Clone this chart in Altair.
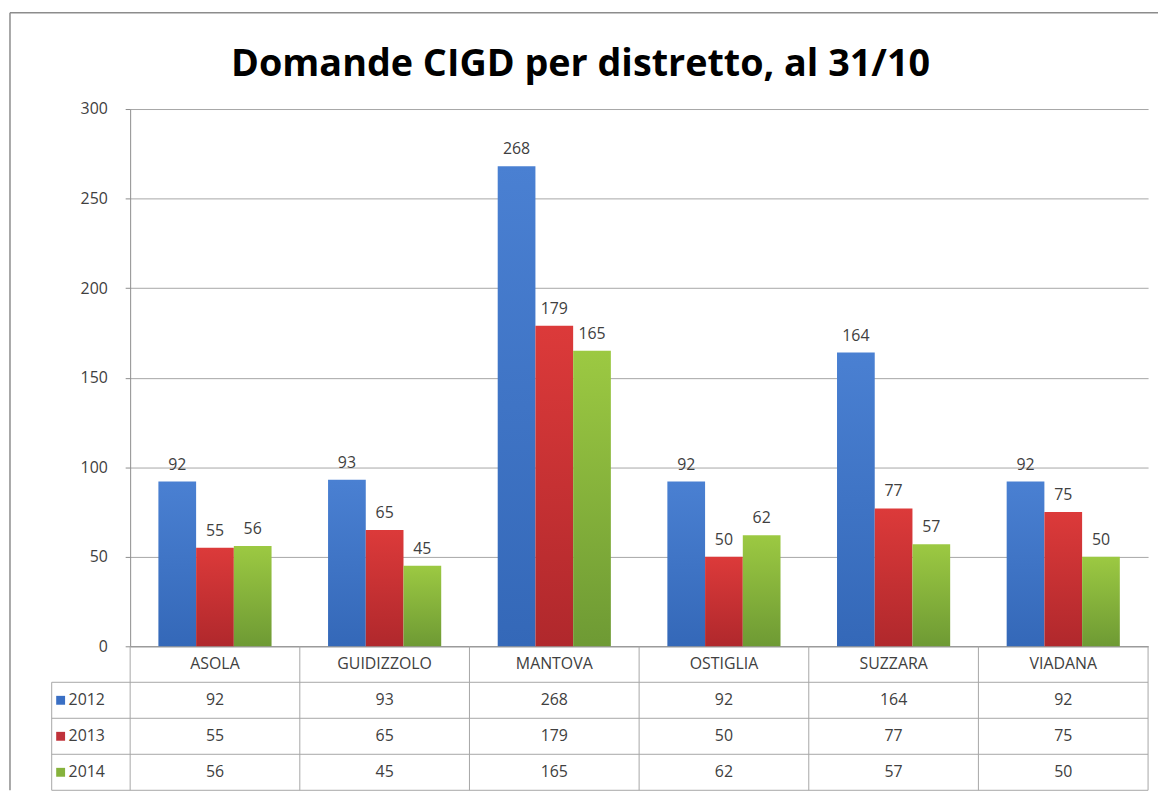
import altair as alt
import pandas as pd

# ---- data ----
categories = ["ASOLA", "GUIDIZZOLO", "MANTOVA", "OSTIGLIA", "SUZZARA", "VIADANA"]
years = ["2012", "2013", "2014"]
v2012 = [92, 93, 268, 92, 164, 92]
v2013 = [55, 65, 179, 50, 77, 75]
v2014 = [56, 45, 165, 62, 57, 50]
y_ticks = [0, 50, 100, 150, 200, 250, 300]
title_text = "Domande CIGD per distretto, al 31/10"

series = {"2012": v2012, "2013": v2013, "2014": v2014}
rows = []
for yr in years:
    for c, v in zip(categories, series[yr]):
        rows.append({"distretto": c, "anno": yr, "valore": v})
df = pd.DataFrame(rows)

# ---- style ----
FONT = "Open Sans"
TXT = "#404040"
LINE = "#a6a6a6"
AXIS = "#8c8c8c"
W, H, TH = 1025, 541, 145
LEG_W = 79

gradients = {
    "2012": alt.Gradient(gradient="linear", x1=0, x2=0, y1=0, y2=1,
                         stops=[alt.GradientStop(color="#4a80d2", offset=0),
                                alt.GradientStop(color="#3468b8", offset=1)]),
    "2013": alt.Gradient(gradient="linear", x1=0, x2=0, y1=0, y2=1,
                         stops=[alt.GradientStop(color="#dc3a3a", offset=0),
                                alt.GradientStop(color="#b0282c", offset=1)]),
    "2014": alt.Gradient(gradient="linear", x1=0, x2=0, y1=0, y2=1,
                         stops=[alt.GradientStop(color="#9cc942", offset=0),
                                alt.GradientStop(color="#6e9a34", offset=1)]),
}
swatch_colors = ["#3a6fc4", "#c0323a", "#86b23c"]

x_top = alt.X("distretto:N", sort=categories,
              scale=alt.Scale(domain=categories, paddingInner=0.333, paddingOuter=0.1665),
              axis=alt.Axis(labels=False, ticks=False, title=None, domain=True,
                            domainColor=AXIS, grid=False))
xoff = alt.XOffset("anno:N", scale=alt.Scale(domain=years, paddingInner=0, paddingOuter=0))
y_top = alt.Y("valore:Q", scale=alt.Scale(domain=[0, 300]),
              axis=alt.Axis(values=y_ticks, title=None, tickSize=5, labelPadding=18,
                            labelFontSize=16, labelColor=TXT, labelFont=FONT,
                            gridColor=LINE, domainColor=AXIS, tickColor=AXIS))

bar_layers = []
for yr in years:
    bar_layers.append(
        alt.Chart(df).transform_filter(alt.datum.anno == yr)
        .mark_bar(color=gradients[yr])
        .encode(x=x_top, xOffset=xoff, y=y_top)
    )

labels = alt.Chart(df).mark_text(baseline="bottom", dy=-9, fontSize=16, font=FONT, color=TXT).encode(
    x=x_top, xOffset=xoff, y=y_top, text="valore:Q"
)

top = alt.layer(*bar_layers, labels).properties(
    width=W, height=H,
    title=alt.TitleParams(title_text, fontSize=38, font=FONT, fontWeight="bold", color="#000000",
                          anchor="middle", frame="group", dx=-59, offset=17),
)

# ---- data table ----
row_domain = ["h"] + years
trows = []
for c in categories:
    trows.append({"distretto": c, "riga": "h", "testo": c})
for yr in years:
    for c, v in zip(categories, series[yr]):
        trows.append({"distretto": c, "riga": yr, "testo": str(v)})
tdf = pd.DataFrame(trows)

x_scale_t = alt.Scale(domain=categories, paddingInner=0, paddingOuter=0)
y_scale_t = alt.Scale(domain=row_domain, paddingInner=0, paddingOuter=0)

cells = alt.Chart(tdf).mark_text(fontSize=16, font=FONT, color=TXT).encode(
    x=alt.X("distretto:N", scale=x_scale_t, axis=None),
    y=alt.Y("riga:N", scale=y_scale_t, axis=None),
    text="testo:N",
)

cat_df = pd.DataFrame({"distretto": categories})
vlines = alt.Chart(cat_df).mark_rule(color=LINE, strokeWidth=1).encode(
    x=alt.X("distretto:N", scale=x_scale_t, axis=None, bandPosition=0)
)
vline_end = alt.Chart(pd.DataFrame({"distretto": [categories[-1]]})).mark_rule(color=LINE).encode(
    x=alt.X("distretto:N", scale=x_scale_t, axis=None, bandPosition=1)
)

yr_df = pd.DataFrame({"riga": years})
hlines = alt.Chart(yr_df).mark_rule(color=LINE).encode(
    y=alt.Y("riga:N", scale=y_scale_t, axis=None, bandPosition=0),
    x=alt.value(-LEG_W), x2=alt.value(W),
)
hline_end = alt.Chart(pd.DataFrame({"riga": [years[-1]]})).mark_rule(color=LINE).encode(
    y=alt.Y("riga:N", scale=y_scale_t, axis=None, bandPosition=1),
    x=alt.value(-LEG_W), x2=alt.value(W),
)
leg_border = alt.Chart(pd.DataFrame({"riga": [years[0]]})).mark_rule(color=LINE).encode(
    y=alt.Y("riga:N", scale=y_scale_t, axis=None, bandPosition=0),
    y2=alt.value(TH),
    x=alt.value(-LEG_W),
)
swatches = alt.Chart(yr_df).mark_point(shape="square", filled=True, size=80, opacity=1).encode(
    y=alt.Y("riga:N", scale=y_scale_t, axis=None),
    x=alt.value(-70),
    color=alt.Color("riga:N", scale=alt.Scale(domain=years, range=swatch_colors), legend=None),
)
yr_text = alt.Chart(yr_df).mark_text(align="left", fontSize=16, font=FONT, color=TXT).encode(
    y=alt.Y("riga:N", scale=y_scale_t, axis=None),
    x=alt.value(-62),
    text="riga:N",
)

# outer chart frame (decoration), drawn from the table cell so it does not move the title
frame_df = pd.DataFrame({"k": [0]})
frame_left = alt.Chart(frame_df).mark_rule(color="#8c8c8c", strokeWidth=1.5).encode(
    x=alt.value(-121), y=alt.value(-H - 97), y2=alt.value(TH)
)
frame_top = alt.Chart(frame_df).mark_rule(color="#8c8c8c", strokeWidth=1.5).encode(
    x=alt.value(-121), x2=alt.value(W + 10), y=alt.value(-H - 97)
)

table = alt.layer(frame_left, frame_top, vlines, vline_end, hlines, hline_end, leg_border,
                  cells, swatches, yr_text).properties(width=W, height=TH)

chart = alt.vconcat(top, table, spacing=0, bounds="flush").resolve_scale(
    x="independent", y="independent", color="independent"
).properties(
    padding={"left": 1, "top": 1, "right": 0, "bottom": 0},
).configure_view(stroke=None).configure_concat(spacing=0)

chart.save("out.html", embed_options={"renderer": "svg", "actions": False})
